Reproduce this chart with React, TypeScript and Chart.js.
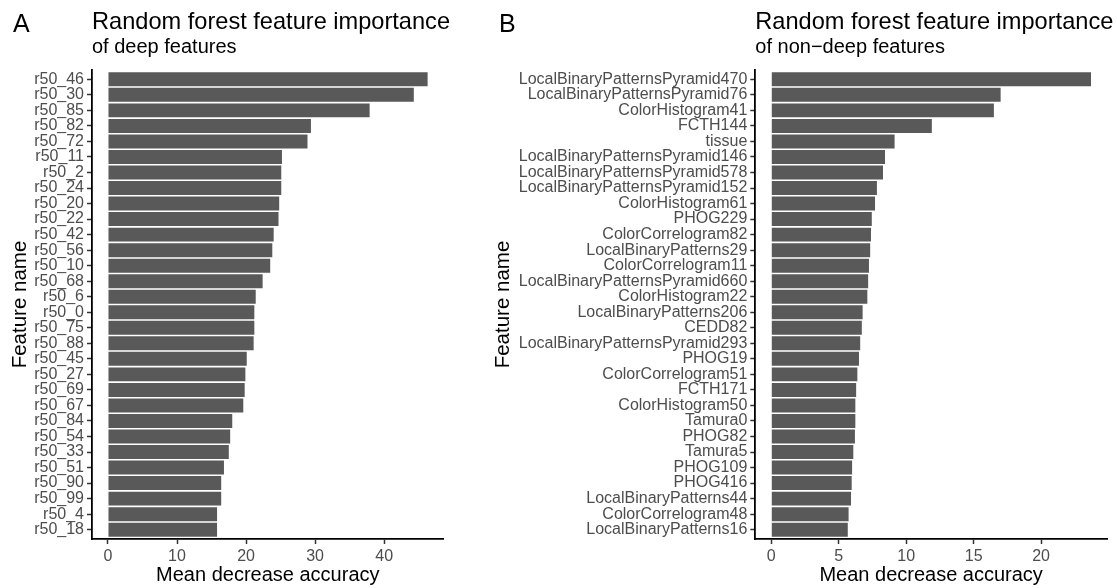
import React, { useEffect, useRef } from "react";
import { Chart, registerables } from "chart.js";

Chart.register(...registerables);

const FONT = "'Liberation Sans', Arial, Helvetica, sans-serif";

const deepFeatures = [
  "r50_46", "r50_30", "r50_85", "r50_82", "r50_72", "r50_11", "r50_2", "r50_24",
  "r50_20", "r50_22", "r50_42", "r50_56", "r50_10", "r50_68", "r50_6", "r50_0",
  "r50_75", "r50_88", "r50_45", "r50_27", "r50_69", "r50_67", "r50_84", "r50_54",
  "r50_33", "r50_51", "r50_90", "r50_99", "r50_4", "r50_18",
];
const deepImportance = [
  46.3, 44.3, 37.9, 29.4, 28.9, 25.2, 25.1, 25.1, 24.8, 24.7, 24.0, 23.8, 23.5, 22.4,
  21.4, 21.2, 21.2, 21.1, 20.1, 19.9, 19.8, 19.6, 18.0, 17.7, 17.5, 16.8, 16.4, 16.4,
  15.8, 15.8,
];
const deepTicks = [0, 10, 20, 30, 40];

const nonDeepFeatures = [
  "LocalBinaryPatternsPyramid470", "LocalBinaryPatternsPyramid76", "ColorHistogram41",
  "FCTH144", "tissue", "LocalBinaryPatternsPyramid146", "LocalBinaryPatternsPyramid578",
  "LocalBinaryPatternsPyramid152", "ColorHistogram61", "PHOG229", "ColorCorrelogram82",
  "LocalBinaryPatterns29", "ColorCorrelogram11", "LocalBinaryPatternsPyramid660",
  "ColorHistogram22", "LocalBinaryPatterns206", "CEDD82", "LocalBinaryPatternsPyramid293",
  "PHOG19", "ColorCorrelogram51", "FCTH171", "ColorHistogram50", "Tamura0", "PHOG82",
  "Tamura5", "PHOG109", "PHOG416", "LocalBinaryPatterns44", "ColorCorrelogram48",
  "LocalBinaryPatterns16",
];
const nonDeepImportance = [
  23.7, 17.0, 16.5, 11.9, 9.14, 8.43, 8.28, 7.83, 7.69, 7.45, 7.39, 7.33, 7.24, 7.18,
  7.12, 6.77, 6.71, 6.59, 6.5, 6.38, 6.29, 6.23, 6.23, 6.2, 6.08, 5.99, 5.96, 5.91,
  5.73, 5.67,
];
const nonDeepTicks = [0, 5, 10, 15, 20];

const TITLE = "Random forest feature importance";
const SUB_DEEP = "of deep features";
const SUB_NONDEEP = "of non\u2212deep features";
const X_TITLE = "Mean decrease accuracy";
const Y_TITLE = "Feature name";

type PanelProps = {
  left: number;
  width: number;
  tag: string;
  tagX: number;
  subtitle: string;
  labels: string[];
  values: number[];
  ticks: number[];
  yWidth: number;
  padRight: number;
  yTitlePad: number;
};

function Panel(p: PanelProps) {
  const ref = useRef<HTMLCanvasElement>(null);
  useEffect(() => {
    if (!ref.current) return;
    const max = Math.max(...p.values);
    const expand = max * 0.05;
    const titles = {
      id: "panelTitles",
      afterDraw(chart: any) {
        const ctx = chart.ctx;
        ctx.save();
        ctx.fillStyle = "#000";
        ctx.textAlign = "left";
        ctx.textBaseline = "alphabetic";
        ctx.font = `25px ${FONT}`;
        ctx.fillText(p.tag, p.tagX, 32);
        ctx.font = `23.6px ${FONT}`;
        ctx.fillText(TITLE, chart.chartArea.left, 29);
        ctx.font = `20px ${FONT}`;
        ctx.fillText(p.subtitle, chart.chartArea.left, 52.5);
        ctx.restore();
      },
    };
    const gridOpts = {
      display: true,
      drawOnChartArea: false,
      drawTicks: true,
      offset: false,
      tickLength: 5,
      tickColor: "#333333",
      tickWidth: 1.5,
    };
    const borderOpts = { display: true, color: "#000", width: 1.8 };
    const chart = new Chart(ref.current, {
      type: "bar",
      data: {
        datasets: [
          {
            data: p.values.map((v, i) => ({ x: v, y: i })),
            backgroundColor: "#595959",
            borderWidth: 0,
            barPercentage: 0.9,
            categoryPercentage: 1,
          },
        ],
      },
      options: {
        indexAxis: "y",
        animation: false,
        responsive: false,
        layout: { padding: { top: 70, bottom: 0, left: 0, right: p.padRight } },
        plugins: {
          legend: { display: false },
          tooltip: { enabled: false },
          title: { display: false },
        },
        scales: {
          x: {
            type: "linear",
            min: -expand,
            max: max + expand,
            offset: false,
            afterBuildTicks: (s: any) => {
              s.ticks = p.ticks.map((v) => ({ value: v }));
            },
            afterFit: (s: any) => {
              s.height = 49;
            },
            grid: gridOpts,
            border: borderOpts,
            ticks: {
              color: "#4d4d4d",
              font: { family: FONT, size: 16 },
              padding: 2.5,
              maxRotation: 0,
              autoSkip: false,
              callback: (v: any) => String(v),
            },
            title: {
              display: true,
              text: X_TITLE,
              color: "#000",
              font: { family: FONT, size: 20 },
              padding: { top: 0, bottom: 1 },
            },
          },
          y: {
            type: "linear",
            reverse: true,
            offset: false,
            min: -0.6,
            max: p.labels.length - 0.4,
            afterBuildTicks: (s: any) => {
              s.ticks = p.labels.map((_, i) => ({ value: i }));
            },
            afterFit: (s: any) => {
              s.width = p.yWidth;
            },
            grid: gridOpts,
            border: borderOpts,
            ticks: {
              color: "#4d4d4d",
              font: { family: FONT, size: 16 },
              padding: 3,
              autoSkip: false,
              callback: (v: any) => p.labels[v] ?? "",
            },
            title: {
              display: true,
              text: Y_TITLE,
              color: "#000",
              font: { family: FONT, size: 20.5 },
              padding: { top: p.yTitlePad, bottom: 0 },
            },
          },
        },
      } as any,
      plugins: [titles],
    });
    return () => chart.destroy();
  }, []);
  return (
    <canvas
      ref={ref}
      width={p.width}
      height={588}
      style={{ position: "absolute", left: p.left, top: 0, width: p.width, height: 588 }}
    />
  );
}

export default function App() {
  return (
    <div
      style={{
        position: "fixed",
        left: 0,
        top: 0,
        width: 1117,
        height: 588,
        background: "#fff",
        overflow: "hidden",
      }}
    >
      <Panel
        left={0}
        width={490}
        tag="A"
        tagX={13}
        subtitle={SUB_DEEP}
        labels={deepFeatures}
        values={deepImportance}
        ticks={deepTicks}
        yWidth={92}
        padRight={46.4}
        yTitlePad={8}
      />
      <Panel
        left={490}
        width={627}
        tag="B"
        tagX={9}
        subtitle={SUB_NONDEEP}
        labels={nonDeepFeatures}
        values={nonDeepImportance}
        ticks={nonDeepTicks}
        yWidth={265.3}
        padRight={10}
        yTitlePad={1.5}
      />
    </div>
  );
}
